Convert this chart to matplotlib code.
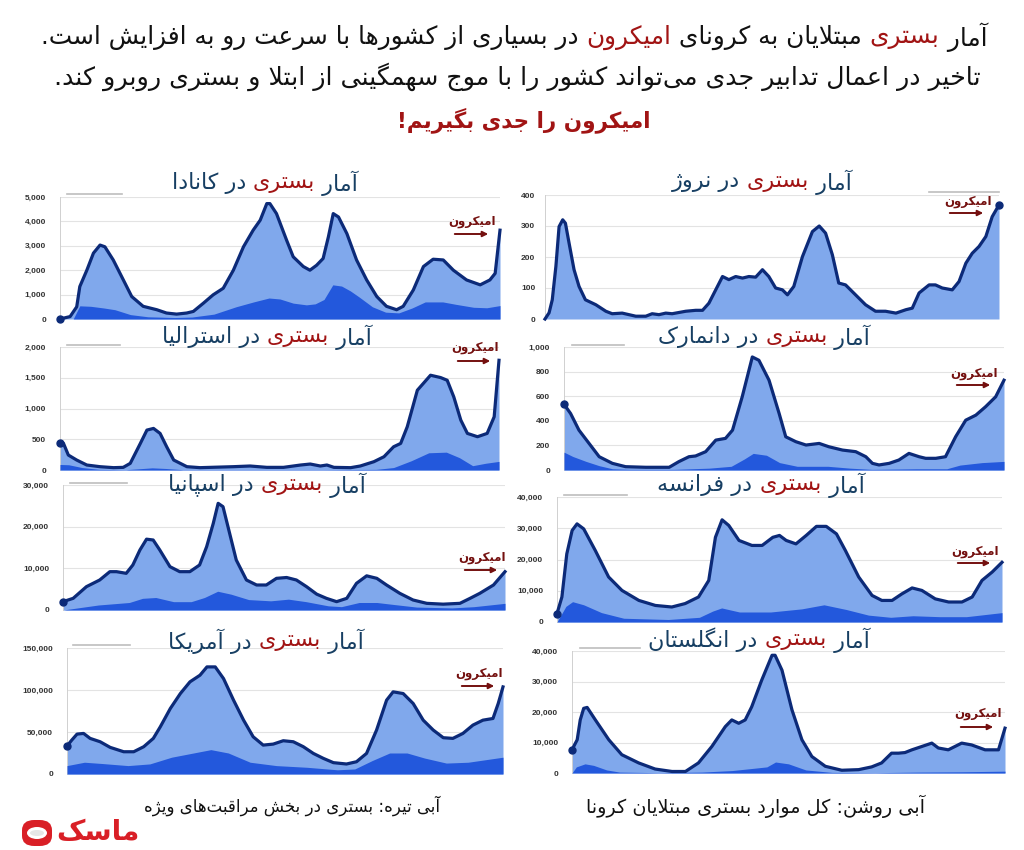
import matplotlib
matplotlib.use('Agg')
import matplotlib.pyplot as plt
from matplotlib.lines import Line2D
from matplotlib.patches import FancyBboxPatch, Ellipse, FancyArrowPatch
import numpy as np

plt.rcParams['font.family'] = ['DejaVu Sans']

# ---- data (time axis 0..100 = whole pandemic period) ----
canada_t = [0, 2.3, 3.8, 4.5, 6.1, 7.6, 9.1, 10.2, 12.1, 14.4, 16.3, 18.9, 22, 24.2, 26.5, 28.8, 30.3, 32.6, 34.8, 37.1,
            39.4, 41.7, 43.9, 45.5, 47, 47.7, 49.2, 51.5, 53, 55.3, 56.8, 58.3, 59.8, 61, 62.1, 63.3, 65.2, 67.4, 69.7, 72,
            74.2, 76.5, 78, 80.3, 82.6, 84.8, 87.1, 89.4, 92.4, 95.5, 97.7, 98.9, 100]
canada_total = [0, 100, 500, 1330, 2000, 2700, 3030, 2960, 2420, 1600, 920, 520, 380, 245, 200, 245, 310, 650, 990, 1260,
                2000, 2960, 3640, 4050, 4730, 4730, 4320, 3230, 2550, 2150, 2000, 2200, 2480, 3370, 4320, 4180, 3500, 2420, 1600, 920,
                520, 380, 520, 1190, 2150, 2450, 2420, 2000, 1600, 1400, 1600, 1870, 3640]
canada_icu_t = [0, 3, 4.5, 7, 10, 12.5, 16, 20, 26, 30, 35, 40, 44, 47.5, 50, 53, 56, 58, 60, 62, 64, 66, 68, 71, 74, 77,
                80, 83, 87, 90, 94, 97, 100]
canada_icu = [0, 0, 540, 520, 450, 380, 180, 90, 60, 80, 200, 500, 700, 860, 820, 650, 580, 620, 800, 1400, 1350, 1150,
              900, 500, 280, 250, 450, 700, 700, 600, 480, 460, 550]

norway_t = [0, 0.9, 1.6, 2.4, 3.1, 3.9, 4.5, 5.3, 6.4, 7.5, 8.9, 11.2, 13.4, 14.8, 17, 18.5, 20, 22.2, 23.6, 25.1,
            26.6, 28, 31, 33.2, 34.7, 36.1, 37.6, 39.1, 40.5, 42, 43.5, 44.9, 46.4, 47.9, 49.3, 50.8, 52.3, 53.4, 54.8, 56.7,
            58.9, 60.4, 61.8, 63.3, 64.7, 66.2, 68.4, 70.6, 72.8, 75, 77.3, 79.5, 80.9, 82.4, 84.6, 86, 87.5, 89.7, 91.2, 92.7,
            94.1, 95.6, 97.1, 98.5, 100]
norway_total = [0, 20, 62, 170, 298, 320, 309, 245, 159, 105, 62, 46, 25, 17, 19, 14, 9, 9, 17, 14,
                19, 17, 25, 28, 28, 51, 94, 137, 127, 137, 132, 137, 135, 159, 137, 100, 94, 78, 105, 201,
                282, 300, 277, 207, 116, 110, 78, 46, 25, 25, 19, 30, 35, 84, 110, 110, 100, 94, 121, 180,
                212, 234, 266, 330, 368]

aus_t = [0, 0.8, 1.9, 3.8, 6.1, 9.1, 12.2, 14.4, 16, 18.3, 19.8, 21.3, 22.8, 24.3, 25.9, 28.9, 31.9, 39.5, 43.3, 47.1,
         50.9, 54.8, 57, 59.3, 60.8, 62.4, 66.2, 68.4, 71.5, 73.8, 76, 77.6, 79.1, 81.4, 84.4, 86.7, 88.2, 89.7, 91.3, 92.8,
         95.1, 97.3, 98.9, 100]
aus_total = [432, 432, 243, 162, 81, 54, 38, 43, 108, 432, 649, 676, 595, 378, 162, 54, 38, 54, 65, 43,
             43, 81, 97, 65, 81, 43, 38, 65, 135, 216, 378, 432, 703, 1297, 1541, 1503, 1459, 1189, 811, 595,
             541, 595, 865, 1784]
aus_icu_t = [0, 2, 5, 9, 15, 18, 21, 24, 28, 40, 60, 72, 76, 80, 84, 88, 91, 94, 97, 100]
aus_icu = [90, 85, 40, 10, 5, 20, 35, 25, 5, 5, 5, 10, 40, 150, 280, 290, 200, 70, 110, 140]

den_t = [0, 1.5, 3.4, 5.7, 8, 11, 14, 18.6, 23.9, 26.1, 28.4, 29.9, 32.2, 34.5, 36.7, 38.3, 40.5, 42.8, 44.3, 46.6,
         48.9, 50.4, 52.7, 55, 58, 60.2, 63.3, 66.3, 68.6, 70.1, 71.6, 73.9, 76.1, 78.4, 80.7, 82.2, 84.5, 86.7, 89, 91.3,
         93.6, 95.8, 98.1, 100]
den_total = [535, 459, 324, 216, 108, 54, 27, 22, 22, 68, 108, 114, 149, 243, 257, 324, 595, 919, 892, 730,
             459, 270, 230, 203, 216, 189, 162, 149, 108, 54, 41, 54, 81, 135, 108, 95, 95, 108, 270, 405,
             446, 514, 595, 730]
den_icu_t = [0, 2, 5, 8, 11, 15, 25, 33, 38, 41, 43, 46, 49, 53, 60, 65, 70, 80, 87, 90, 95, 100]
den_icu = [145, 110, 70, 35, 10, 5, 5, 15, 30, 90, 135, 120, 60, 30, 30, 15, 5, 10, 10, 40, 60, 70]

spain_t = [0, 2.3, 5.3, 8.3, 10.6, 12.1, 14.3, 15.8, 17.4, 18.9, 20.4, 21.9, 24.2, 26.4, 28.7, 30.9, 32.5, 34, 35.1, 36.2,
           37.7, 39.2, 41.5, 43.8, 46, 48.3, 50.6, 52.8, 55.1, 57.4, 59.6, 61.9, 64.2, 66.4, 68.7, 71, 73.2, 76.2, 79.2, 82.3,
           86, 89.8, 92.1, 94.3, 97.4, 100]
spain_total = [2000, 2800, 5600, 7200, 9200, 9200, 8800, 10800, 14400, 17000, 16800, 14400, 10400, 9200, 9200, 10800, 15200, 20800, 25600, 24800,
               18400, 12000, 7200, 6000, 6000, 7600, 7800, 7200, 5600, 3800, 2800, 2000, 2800, 6400, 8200, 7600, 6000, 4000, 2400, 1600,
               1400, 1600, 2800, 4000, 6000, 9200]
spain_icu_t = [0, 8, 15, 18, 21, 25, 29, 32, 35, 38, 42, 47, 51, 55, 60, 63, 67, 71, 75, 80, 88, 93, 100]
spain_icu = [0, 1200, 1800, 2800, 3000, 2000, 2000, 3000, 4500, 3800, 2500, 2200, 2600, 2000, 1000, 800, 1800, 1800,
             1300, 700, 500, 800, 1600]

france_t = [0, 1.1, 2.2, 3.4, 4.5, 6, 8.6, 11.6, 14.6, 18.4, 22.1, 25.8, 28.8, 31.8, 34.1, 35.6, 37.1, 38.6, 40.9, 43.8,
            46.1, 48.5, 50, 51.5, 53.7, 56, 58.3, 60.5, 62.8, 64.8, 67.8, 70.8, 73, 75.3, 77.5, 79.8, 82, 85, 88, 91,
            93.3, 95.5, 97.8, 100]
france_total = [2700, 8000, 21800, 29300, 31400, 29800, 22900, 14400, 10100, 6900, 5300, 4800, 5900, 8000, 13300, 27100, 32700, 30900, 26100, 24500,
                24500, 27100, 27700, 26100, 25000, 27700, 30600, 30600, 28200, 22900, 14400, 8500, 6900, 6900, 9000, 10900, 10100, 7400, 6400, 6400,
                8000, 13300, 16000, 19100]
france_icu_t = [0, 2, 3.5, 6, 10, 15, 25, 32, 35, 37, 41, 48, 55, 60, 65, 70, 75, 80, 86, 92, 100]
france_icu = [0, 5000, 6500, 5500, 3000, 1200, 800, 1500, 3500, 4500, 3200, 3200, 4200, 5500, 4000, 2200, 1500, 2000,
              1700, 1700, 3000]

us_t = [0, 1.1, 2.3, 3.8, 5.3, 7.6, 9.9, 13, 15.3, 17.6, 19.8, 21.4, 23.7, 26, 28.2, 30.5, 32.1, 34, 35.9, 38.2,
        40.5, 42.7, 45, 47.3, 49.6, 51.9, 54.2, 56.5, 58.8, 61.1, 64.1, 66.4, 68.7, 71, 73.3, 74.8, 77.1, 79.4, 81.7, 84,
        86.3, 88.5, 90.8, 93.1, 95.4, 97.7, 98.9, 100]
us_total = [33300, 40400, 47500, 48300, 42400, 38400, 31700, 26500, 26500, 32500, 42400, 56200, 78000, 95800, 109700, 117600, 127500, 127500, 113600, 87900,
            64100, 44300, 34400, 35600, 39600, 38400, 32500, 24500, 18600, 13500, 11900, 14600, 24500, 52300, 87900, 97800, 95800, 83900, 64100, 52300,
            43200, 42400, 48300, 58200, 64100, 66100, 83900, 103700]
us_icu_t = [0, 4, 8, 14, 19, 24, 30, 33, 37, 42, 48, 55, 62, 66, 70, 74, 78, 82, 87, 92, 96, 100]
us_icu = [10000, 14000, 12500, 10000, 12000, 20000, 26000, 29000, 25000, 14000, 10000, 8000, 5000, 6000, 16000, 25000,
          25000, 19000, 13000, 14000, 17000, 20000]

uk_t = [0, 1.2, 1.9, 2.7, 3.5, 5.4, 8.5, 11.5, 15.4, 19.2, 23.1, 26.2, 29.2, 32.3, 35.4, 36.9, 38.5, 40, 41.5, 43.8,
        46.2, 46.9, 48.5, 50.8, 53.1, 55.4, 58.5, 62.3, 66.2, 69.2, 71.5, 73.8, 75.4, 76.9, 78.5, 80.8, 83.1, 84.6, 86.9, 90,
        92.3, 95.4, 98.5, 100]
uk_total = [7600, 10900, 17400, 21200, 21500, 17400, 10900, 6000, 3300, 1300, 500, 500, 3300, 8700, 15200, 17400, 16300, 17400, 21700, 30400,
            38600, 38600, 33700, 20700, 10900, 5400, 2200, 900, 1100, 2000, 3300, 6500, 6500, 6700, 7600, 8700, 9800, 8200, 7600, 9800,
            9200, 7600, 7600, 14700]
uk_icu_t = [0, 1, 3, 5, 8, 11, 20, 30, 37, 45, 47, 50, 54, 60, 70, 80, 90, 100]
uk_icu = [0, 2000, 3000, 2500, 1000, 300, 100, 300, 800, 2000, 3600, 3000, 1000, 200, 100, 300, 400, 600]

countries = ['کانادا', 'نروژ', 'استرالیا', 'دانمارک', 'اسپانیا', 'فرانسه', 'آمریکا', 'انگلستان']
y_tops = [5000, 400, 2000, 1000, 30000, 40000, 150000, 40000]
y_steps = [1000, 100, 500, 200, 10000, 10000, 50000, 10000]

# ---- persian shaping (no external reshaper available) ----
DUAL = {0x0628: (0xFE8F, 0xFE90, 0xFE91, 0xFE92), 0x067E: (0xFB56, 0xFB57, 0xFB58, 0xFB59),
        0x062A: (0xFE95, 0xFE96, 0xFE97, 0xFE98), 0x062B: (0xFE99, 0xFE9A, 0xFE9B, 0xFE9C),
        0x062C: (0xFE9D, 0xFE9E, 0xFE9F, 0xFEA0), 0x0686: (0xFB7A, 0xFB7B, 0xFB7C, 0xFB7D),
        0x062D: (0xFEA1, 0xFEA2, 0xFEA3, 0xFEA4), 0x062E: (0xFEA5, 0xFEA6, 0xFEA7, 0xFEA8),
        0x0633: (0xFEB1, 0xFEB2, 0xFEB3, 0xFEB4), 0x0634: (0xFEB5, 0xFEB6, 0xFEB7, 0xFEB8),
        0x0635: (0xFEB9, 0xFEBA, 0xFEBB, 0xFEBC), 0x0636: (0xFEBD, 0xFEBE, 0xFEBF, 0xFEC0),
        0x0637: (0xFEC1, 0xFEC2, 0xFEC3, 0xFEC4), 0x0638: (0xFEC5, 0xFEC6, 0xFEC7, 0xFEC8),
        0x0639: (0xFEC9, 0xFECA, 0xFECB, 0xFECC), 0x063A: (0xFECD, 0xFECE, 0xFECF, 0xFED0),
        0x0641: (0xFED1, 0xFED2, 0xFED3, 0xFED4), 0x0642: (0xFED5, 0xFED6, 0xFED7, 0xFED8),
        0x06A9: (0xFB8E, 0xFB8F, 0xFB90, 0xFB91), 0x06AF: (0xFB92, 0xFB93, 0xFB94, 0xFB95),
        0x0644: (0xFEDD, 0xFEDE, 0xFEDF, 0xFEE0), 0x0645: (0xFEE1, 0xFEE2, 0xFEE3, 0xFEE4),
        0x0646: (0xFEE5, 0xFEE6, 0xFEE7, 0xFEE8), 0x0647: (0xFEE9, 0xFEEA, 0xFEEB, 0xFEEC),
        0x06CC: (0xFBFC, 0xFBFD, 0xFBFE, 0xFBFF), 0x064A: (0xFEF1, 0xFEF2, 0xFEF3, 0xFEF4),
        0x0626: (0xFE89, 0xFE8A, 0xFE8B, 0xFE8C)}
RIGHT = {0x0627: (0xFE8D, 0xFE8E), 0x0622: (0xFE81, 0xFE82), 0x0623: (0xFE83, 0xFE84),
         0x0625: (0xFE87, 0xFE88), 0x062F: (0xFEA9, 0xFEAA), 0x0630: (0xFEAB, 0xFEAC),
         0x0631: (0xFEAD, 0xFEAE), 0x0632: (0xFEAF, 0xFEB0), 0x0698: (0xFB8A, 0xFB8B),
         0x0648: (0xFEED, 0xFEEE), 0x0624: (0xFE85, 0xFE86)}
LAMALEF = {0x0627: (0xFEFB, 0xFEFC), 0x0622: (0xFEF5, 0xFEF6)}


def fa(s):
    out = []
    i = 0
    while i < len(s):
        c = ord(s[i])
        pj = i > 0 and ord(s[i - 1]) in DUAL
        nxt = ord(s[i + 1]) if i + 1 < len(s) else None
        if c == 0x0644 and nxt in LAMALEF:
            out.append(chr(LAMALEF[nxt][1 if pj else 0]))
            i += 2
            continue
        if c in DUAL:
            nj = nxt in DUAL or nxt in RIGHT
            k = 3 if (pj and nj) else 1 if pj else 2 if nj else 0
            out.append(chr(DUAL[c][k]))
        elif c in RIGHT:
            out.append(chr(RIGHT[c][1 if pj else 0]))
        elif c != 0x200C:
            out.append(s[i])
        i += 1
    return ''.join(reversed(out))


W, H = 1024, 850
fig = plt.figure(figsize=(10.24, 8.5), dpi=100)
fig.patch.set_facecolor('white')
rend = fig.canvas.get_renderer()


def fx(x):
    return x / W


def fy(y):
    return 1 - y / H


def rich(xc, y, parts, size, weight='normal'):
    # parts in reading (right-to-left) order
    txts = []
    for s, col in reversed(parts):
        txts.append(fig.text(0, fy(y), fa(s), color=col, fontsize=size, va='center', ha='left', fontweight=weight))
    ws = [t.get_window_extent(rend).width for t in txts]
    x = xc - sum(ws) / 2
    for t, w in zip(txts, ws):
        t.set_x(fx(x))
        x += w


RED = '#a11414'
BLK = '#111111'
TBLUE = '#173f63'
LIGHT = '#80a8ec'
DARK = '#2358dc'
NAVY = '#0c2a78'
ARROW = '#74100f'

# header
rich(514, 37, [('آمار ', BLK), ('بستری', RED), (' مبتلایان به کرونای ', BLK), ('امیکرون', RED),
               (' در بسیاری از کشورها با سرعت رو به افزایش است.', BLK)], 17.8)
rich(517, 77, [('تاخیر در اعمال تدابیر جدی می\u200cتواند کشور را با موج سهمگینی از ابتلا و بستری روبرو کند.', BLK)], 18.2)
rich(524, 120, [('امیکرون را جدی بگیریم!', RED)], 15.5, weight='bold')

# panels: (left, right, y0, ytop) in pixels
boxes = [(60, 500, 319, 197), (545, 999, 319, 195), (60, 499, 470, 347), (564, 1004, 470, 347),
         (63, 505, 610, 485), (557, 1002, 622, 497), (67, 503, 774, 648), (572, 1005, 773, 651)]
title_xy = [(265, 183), (762, 182), (267, 337), (764, 337), (267, 485), (761, 485), (266, 641), (759, 640)]
legend_seg = [(67, 122, 194), (929, 999, 192), (67, 120, 345), (572, 624, 345),
              (70, 127, 483), (564, 627, 495), (73, 130, 645), (580, 640, 648)]
omicron = [(472, 222, 452, 491, 234), (968, 202, 947, 986, 213), (475, 348, 455, 493, 361), (974, 373, 954, 993, 385),
           (482, 558, 462, 500, 570), (975, 551, 955, 993, 563), (479, 673, 459, 497, 686), (978, 714, 958, 996, 727)]

series = [(canada_t, canada_total, canada_icu_t, canada_icu), (norway_t, norway_total, None, None),
          (aus_t, aus_total, aus_icu_t, aus_icu), (den_t, den_total, den_icu_t, den_icu),
          (spain_t, spain_total, spain_icu_t, spain_icu), (france_t, france_total, france_icu_t, france_icu),
          (us_t, us_total, us_icu_t, us_icu), (uk_t, uk_total, uk_icu_t, uk_icu)]

for i, (t, tot, it, icu) in enumerate(series):
    l, r, y0, yt = boxes[i]
    ax = fig.add_axes([fx(l), fy(y0), (r - l) / W, (y0 - yt) / H])
    ax.set_xlim(0, 100)
    ax.set_ylim(0, y_tops[i])
    ax.fill_between(t, tot, color=LIGHT, lw=0, zorder=2)
    if icu is not None:
        ax.fill_between(it, icu, color=DARK, lw=0, zorder=3)
    ax.plot(t, tot, color=NAVY, lw=2.3, zorder=4, clip_on=False, solid_joinstyle='round')
    if i == 1:
        ax.plot(t[-1], tot[-1], 'o', color=NAVY, ms=5, zorder=5, clip_on=False)
    else:
        ax.plot(t[0], tot[0], 'o', color=NAVY, ms=5, zorder=5, clip_on=False)
    ticks = np.arange(0, y_tops[i] + 1, y_steps[i])
    ax.set_yticks(ticks)
    ax.set_yticklabels(['{:,}'.format(int(v)) for v in ticks], fontsize=6, fontweight='bold',
                       family='Liberation Sans', color='#333333')
    ax.set_xticks([])
    ax.tick_params(axis='y', length=0, pad=7 if i == 1 else 10)
    ax.grid(axis='y', color='#e3e3e3', lw=0.8, zorder=0)
    ax.set_axisbelow(True)
    for sp in ['top', 'right', 'bottom']:
        ax.spines[sp].set_visible(False)
    ax.spines['left'].set_color('#d0d0d0')
    ax.spines['left'].set_linewidth(0.7)
    ax.patch.set_alpha(0)

    a, b, yy = legend_seg[i]
    fig.add_artist(Line2D([fx(a), fx(b)], [fy(yy), fy(yy)], color='#bdbdbd', lw=1.2))

    tx, ty = title_xy[i]
    rich(tx, ty, [('آمار ', TBLUE), ('بستری', RED), (' در ' + countries[i], TBLUE)], 16)

    ox, oy, a1, a2, ay = omicron[i]
    fig.text(fx(ox), fy(oy), fa('امیکرون'), color=ARROW, fontsize=8.5, fontweight='bold', ha='center', va='center')
    fig.add_artist(FancyArrowPatch((fx(a1), fy(ay)), (fx(a2), fy(ay)), transform=fig.transFigure,
                                   arrowstyle='-|>', mutation_scale=8, color=ARROW, lw=1.4))

# legend text at the bottom
rich(755, 806, [('آبی روشن: کل موارد بستری مبتلایان کرونا', BLK)], 13.8)
rich(292, 806, [('آبی تیره: بستری در بخش مراقبت\u200cهای ویژه', BLK)], 12)

# logo
fig.add_artist(FancyBboxPatch((fx(22), fy(846)), 30 / W, 26 / H, boxstyle='round,pad=0,rounding_size=0.012',
                              transform=fig.transFigure, fc='#d91f26', ec='none'))
fig.add_artist(Ellipse((fx(37), fy(833)), 20 / W, 12 / H, transform=fig.transFigure, fc='white', ec='none'))
fig.add_artist(Ellipse((fx(37), fy(833)), 14 / W, 6 / H, transform=fig.transFigure, fc='#e6e6e6', ec='none'))
fig.text(fx(98), fy(832), fa('ماسک'), color='#d91f26', fontsize=20, fontweight='bold', ha='center', va='center')

fig.savefig('out.png', dpi=100)
